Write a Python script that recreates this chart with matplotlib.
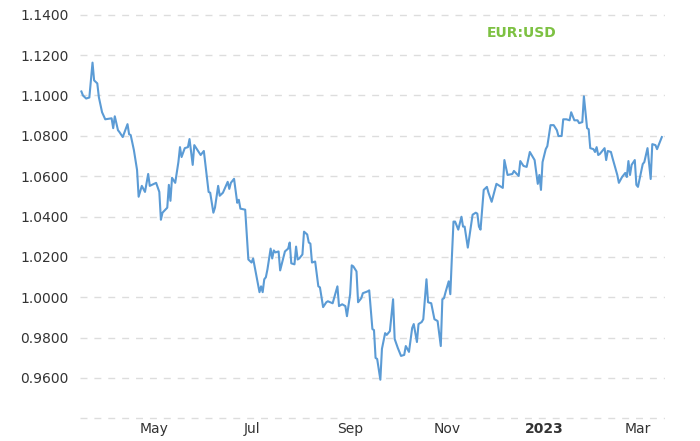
import matplotlib
matplotlib.use("Agg")
import matplotlib.pyplot as plt
import numpy as np
import pandas as pd

start = pd.Timestamp("2022-03-16")
days = [0,1,3,5,7,8,10,11,13,15,19,20,21,23,24,26,29,30,31,33,35,36,38,40,42,43,47,49,50,51,54,55,56,57,59,61,62,63,65,67,68,70,71,73,75,77,80,81,83,84,86,87,89,92,93,94,96,98,99,100,103,105,107,108,112,113,114,115,116,117,119,120,121,122,124,125,127,128,130,131,132,134,135,136,137,139,140,142,143,144,145,147,149,150,152,154,155,158,161,162,164,166,167,169,170,171,173,174,176,177,180,181,183,184,185,186,188,189,191,192,194,196,197,199,201,203,204,206,208,209,211,212,214,215,217,218,220,222,224,226,227,228,229,231,232,233,234,235,237,239,240,241,243,246,248,249,250,251,253,255,256,258,261,263,265,266,268,271,272,275,276,278,280,282,285,287,288,289,290,292,293,295,297,299,300,302,303,305,307,308,310,312,313,315,316,318,319,320,322,323,324,325,326,329,330,331,333,334,337,338,340,342,343,344,345,346,348,349,350,353,354,356,358,359,361,362,365]
rates = [1.1020,1.1000,1.0985,1.0990,1.1163,1.1075,1.1060,1.0991,1.0917,1.0882,1.0887,1.0838,1.0897,1.0828,1.0818,1.0794,1.0858,1.0808,1.0804,1.0730,1.0631,1.0498,1.0552,1.0522,1.0611,1.0552,1.0567,1.0522,1.0384,1.0419,1.0444,1.0557,1.0478,1.0592,1.0567,1.0670,1.0744,1.0695,1.0739,1.0744,1.0784,1.0656,1.0754,1.0730,1.0705,1.0725,1.0522,1.0518,1.0419,1.0444,1.0552,1.0503,1.0518,1.0572,1.0537,1.0567,1.0587,1.0468,1.0483,1.0439,1.0434,1.0187,1.0172,1.0192,1.0025,1.0054,1.0025,1.0089,1.0099,1.0138,1.0241,1.0192,1.0232,1.0222,1.0227,1.0133,1.0197,1.0227,1.0241,1.0271,1.0168,1.0163,1.0251,1.0187,1.0192,1.0212,1.0325,1.0311,1.0271,1.0266,1.0172,1.0177,1.0054,1.0049,0.9951,0.9975,0.9980,0.9970,1.0054,0.9956,0.9965,0.9956,0.9906,1.0015,1.0158,1.0153,1.0128,0.9975,0.9995,1.0020,1.0029,1.0034,0.9842,0.9837,0.9699,0.9694,0.9591,0.9744,0.9822,0.9813,0.9832,0.9990,0.9793,0.9748,0.9709,0.9714,0.9758,0.9729,0.9847,0.9867,0.9778,0.9867,0.9877,0.9891,1.0089,0.9975,0.9970,0.9891,0.9882,0.9758,0.9990,0.9995,1.0025,1.0079,1.0015,1.0202,1.0375,1.0375,1.0335,1.0399,1.0350,1.0350,1.0246,1.0409,1.0419,1.0414,1.0350,1.0335,1.0532,1.0547,1.0518,1.0473,1.0562,1.0552,1.0542,1.0680,1.0606,1.0611,1.0626,1.0601,1.0675,1.0651,1.0646,1.0720,1.0680,1.0562,1.0606,1.0532,1.0670,1.0734,1.0749,1.0853,1.0853,1.0828,1.0799,1.0799,1.0882,1.0882,1.0877,1.0917,1.0877,1.0877,1.0863,1.0868,1.0996,1.0838,1.0833,1.0739,1.0734,1.0720,1.0744,1.0705,1.0710,1.0739,1.0680,1.0725,1.0720,1.0690,1.0606,1.0567,1.0596,1.0616,1.0596,1.0675,1.0606,1.0656,1.0680,1.0557,1.0547,1.0660,1.0670,1.0739,1.0586,1.0759,1.0754,1.0734,1.0794]
dates = start + pd.to_timedelta(days, unit="D")

ytick_vals = [0.96,0.98,1.00,1.02,1.04,1.06,1.08,1.10,1.12,1.14]
xtick_dates = ["2022-05-01","2022-07-01","2022-09-01","2022-11-01","2023-01-01","2023-03-01"]
xtick_labels = ["May","Jul","Sep","Nov","2023","Mar"]

fig = plt.figure(figsize=(7,4.41), dpi=100)
ax = fig.add_axes([0.114, 0.047, 0.836, 0.94])
ax.plot(dates, rates, color="#5b9bd5", lw=1.5)
ax.set_ylim(0.939, 1.1445)
ax.set_xlim(start - pd.Timedelta(days=1), start + pd.Timedelta(days=367))
for v in ytick_vals + [0.94]:
    ax.axhline(v, color="#dddddd", lw=1, ls=(0,(5,5)), zorder=0)
ax.set_yticks(ytick_vals)
ax.set_yticklabels([f"{v:.4f}" for v in ytick_vals])
ax.set_xticks(pd.to_datetime(xtick_dates))
ax.set_xticklabels(xtick_labels)
for lbl in ax.get_xticklabels():
    if lbl.get_text() == "2023":
        lbl.set_fontweight("bold")
ax.tick_params(length=0, labelsize=10, colors="#333333")
ax.tick_params(axis="y", pad=8)
ax.tick_params(axis="x", pad=1)
for s in ax.spines.values():
    s.set_visible(False)
ax.text(0.695, 0.935, "EUR:USD", transform=ax.transAxes, color="#7dc142",
        fontsize=10, fontweight="bold", ha="left", va="center")
fig.savefig("out.png", dpi=100)
